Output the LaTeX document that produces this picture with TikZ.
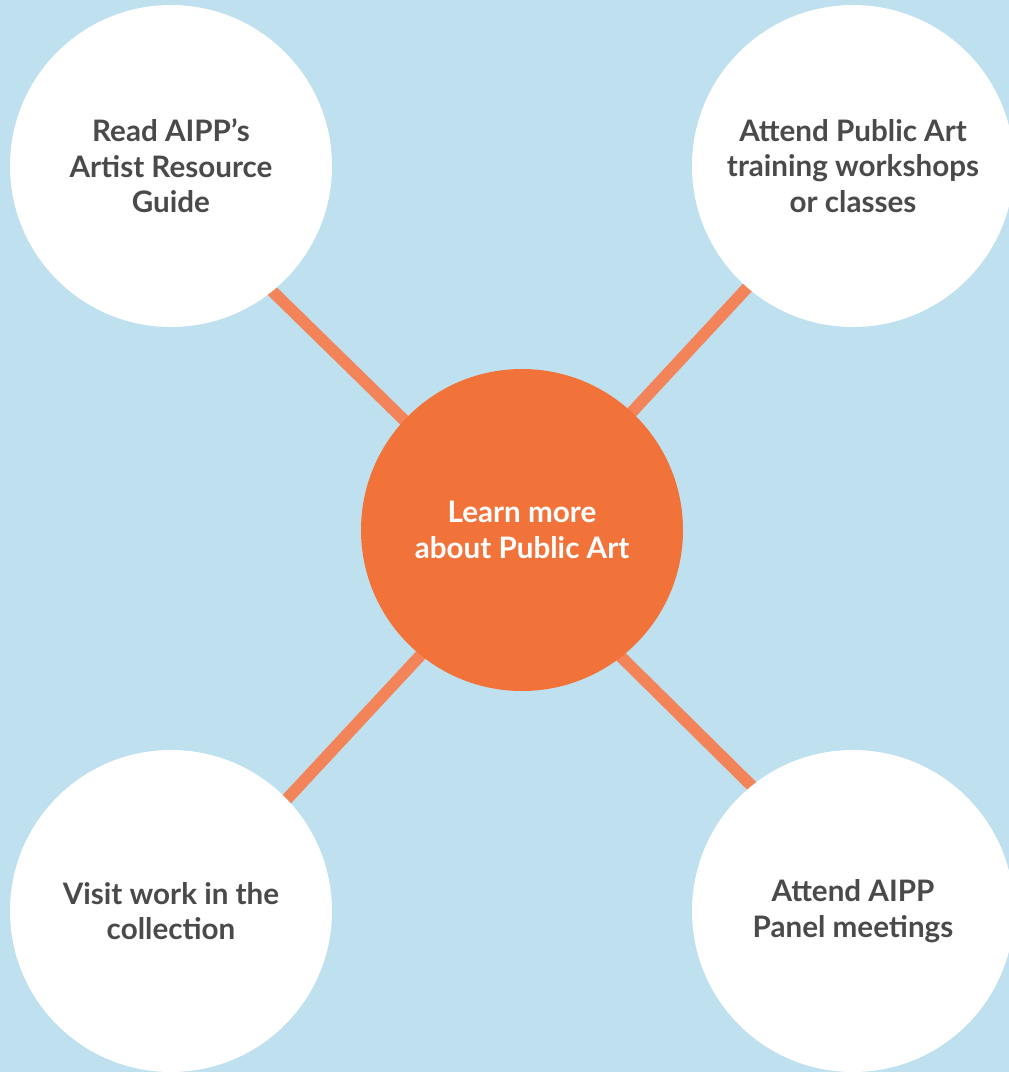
\documentclass[tikz,border=0pt]{standalone}
\usepackage{fontspec}
\setmainfont{Lato}
\usetikzlibrary{backgrounds}

\definecolor{fond}{HTML}{BFE0EF}
\definecolor{orange}{HTML}{F2733A}
\definecolor{lien}{HTML}{F3845A}
\definecolor{texte}{HTML}{4A4A4A}

\tikzset{
	bulle/.style={circle, fill=white, minimum size=241.5pt, inner sep=0pt, align=center,
		text=texte, font=\fontsize{22.2}{26.5}\selectfont\bfseries},
	centre/.style={bulle, fill=orange, text=white},
	lien/.style={line width=8.8pt, color=lien, shorten <=-6pt, shorten >=-6pt}
}

\begin{document}
	\begin{tikzpicture}[x=0.75pt, y=-0.75pt]
		\useasboundingbox (0, 0) rectangle (1008, 1072);
		
		\node [centre] (C) at (522, 530) {Learn more \\ about Public Art};
		
		\node [bulle] (A1) at (171, 166) {Read AIPP’s \\ Artist Resource \\ Guide};
		\node [bulle] (A2) at (853, 166) {Attend Public Art \\ training workshops \\ or classes};
		\node [bulle] (A3) at (171, 911) {Visit work in the \\ collection};
		\node [bulle] (A4) at (853, 911) {Attend AIPP \\ Panel meetings};
		
		\begin{scope}[on background layer]
			\fill [fond] (-2, -2) rectangle (1010, 1074);
			\draw [lien] (C.137.3) -- (A1.-51.3);
			\draw [lien] (C.47.5) -- (A2.229.5);
			\draw [lien] (C.231.2) -- (A3.44.5);
			\draw [lien] (C.-52.4) -- (A4.129.7);
		\end{scope}
	\end{tikzpicture}
\end{document}
